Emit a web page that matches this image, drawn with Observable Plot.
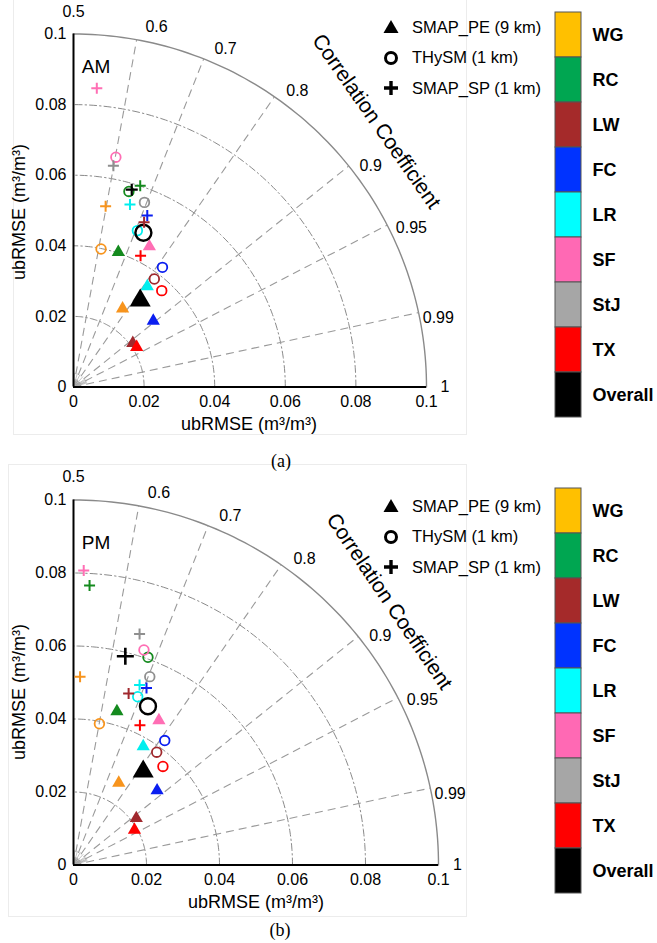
<!DOCTYPE html>
<html><head><meta charset="utf-8">
<script src="https://cdn.jsdelivr.net/npm/d3@7"></script>
<script src="https://cdn.jsdelivr.net/npm/@observablehq/plot@0.6"></script>
<style>
body{margin:0;background:#fff;font-family:"Liberation Sans",Arial,sans-serif;color:#000;}
#root{position:relative;width:657px;height:943px;overflow:hidden;background:#fff;}
.abs{position:absolute;white-space:nowrap;line-height:1;}
.box{position:absolute;border:1px solid #ececec;}
</style></head><body><div id="root"></div>
<script>
// ---------- data ----------
const sites = ["WG","RC","LW","FC","LR","SF","StJ","TX","Overall"];
const barColors = ["#FFC000","#00A651","#A52A2A","#0033FF","#00FFFF","#FF69B4","#A6A6A6","#FF0000","#000000"];
const markerColors = ["#F7941D","#148A1E","#A0282D","#0A1EF0","#00EEEE","#FF6EB4","#8F8F8F","#FF0000","#000000"];
const products = ["SMAP_PE (9 km)","THySM (1 km)","SMAP_SP (1 km)"];
const corrTicks = [0.5,0.6,0.7,0.8,0.9,0.95,0.99,1];
const corrRays = [0.6,0.7,0.8,0.9,0.95,0.99];
const fanRays = [0.55,0.65,0.75,0.85,0.92,0.94,0.96,0.97,0.98];
const rmseTicks = [0,0.02,0.04,0.06,0.08,0.1];
const arcRadii = [0.02,0.04,0.06,0.08];
const outerRadius = 0.1;

// AM: [site, x ubRMSE, y ubRMSE]
const amPE = [["WG",0.0139,0.0222],["RC",0.0127,0.0382],["LW",0.0168,0.0124],["FC",0.0226,0.0187],["LR",0.0209,0.0285],["SF",0.0215,0.0398],["TX",0.0179,0.0113],["Overall",0.0189,0.0245]];
const amTH = [["WG",0.0078,0.0391],["RC",0.0157,0.0554],["LW",0.0229,0.0306],["FC",0.0252,0.0339],["LR",0.0181,0.0443],["SF",0.0120,0.0651],["StJ",0.0201,0.0523],["TX",0.0250,0.0273],["Overall",0.0198,0.0437]];
const amSP = [["WG",0.0091,0.0512],["RC",0.0189,0.0570],["LW",0.0200,0.0467],["FC",0.0209,0.0486],["LR",0.0160,0.0517],["SF",0.0066,0.0846],["StJ",0.0113,0.0627],["TX",0.0190,0.0372],["Overall",0.0165,0.0559]];
// PM
const pmPE = [["WG",0.0124,0.0225],["RC",0.0119,0.0421],["LW",0.0172,0.0128],["FC",0.0229,0.0204],["LR",0.0191,0.0325],["SF",0.0234,0.0396],["TX",0.0167,0.0096],["Overall",0.0191,0.0256]];
const pmTH = [["WG",0.0071,0.0387],["RC",0.0204,0.0569],["LW",0.0228,0.0309],["FC",0.0250,0.0341],["LR",0.0176,0.0461],["SF",0.0193,0.0589],["StJ",0.0209,0.0516],["TX",0.0245,0.0270],["Overall",0.0204,0.0435]];
const pmSP = [["WG",0.0018,0.0516],["RC",0.0044,0.0766],["LW",0.0151,0.0470],["FC",0.0200,0.0485],["LR",0.0181,0.0493],["SF",0.0028,0.0807],["StJ",0.0181,0.0633],["TX",0.0182,0.0383],["Overall",0.0142,0.0572]];

// ---------- helpers ----------
const root = document.getElementById("root");
const mc = s => markerColors[sites.indexOf(s)];
const rows = arr => arr.map(([site,x,y]) => ({site,x,y}));
const ang = c => 1.5*Math.acos(c);
const polar = (rho,c,off=0) => ({x: rho*Math.cos(ang(c)-off), y: rho*Math.sin(ang(c)-off)});
const arcPts = rho => d3.range(0,91,1).map(a => ({r: rho, x: rho*Math.cos(a*Math.PI/180), y: rho*Math.sin(a*Math.PI/180)}));
const plusSymbol = {draw(ctx,size){const h=Math.sqrt(size/Math.PI);ctx.moveTo(-h,0);ctx.lineTo(h,0);ctx.moveTo(0,-h);ctx.lineTo(0,h);}};
const fmt = d => d===0 ? "0" : (d===0.1 ? "0.1" : d.toFixed(2));
// label placement just outside the outer arc
const labelPos = c => c === 1 ? polar(0.104, c) : polar(outerRadius*(1 + 0.04*Math.sin(ang(c))), c, Math.PI/180);

function addText(txt, x, y, opts={}) {
  const d = document.createElement("div");
  d.className = "abs";
  d.innerHTML = txt;
  d.style.left = x+"px"; d.style.top = y+"px";
  d.style.fontSize = (opts.size||16)+"px";
  if (opts.weight) d.style.fontWeight = opts.weight;
  if (opts.family) d.style.fontFamily = opts.family;
  d.style.transform = "translate(-50%,-50%)" + (opts.rotate ? ` rotate(${opts.rotate}deg)` : "");
  root.appendChild(d);
}

function panel({pe, th, sp, S, originY, top, height, plusBig}) {
  const width = 480, marginLeft = 73;
  const marginTop = originY - top - S;
  const marginBottom = height - (originY - top);
  const marginRight = width - marginLeft - S;
  const ov = d => d.site === "Overall";
  const nov = d => d.site !== "Overall";
  const chart = Plot.plot({
    width, height, marginLeft, marginRight, marginTop, marginBottom,
    x: {domain: [0, 0.1]}, y: {domain: [0, 0.1]},
    color: {type: "identity"},
    style: {fontFamily: "'Liberation Sans', Arial, sans-serif", fontSize: "16px", color: "#000", background: "transparent", overflow: "visible"},
    marks: [
      Plot.line(arcRadii.flatMap(arcPts), {x:"x", y:"y", z:"r", stroke:"#8a8a8a", strokeWidth:1, strokeDasharray:"7,3,1.5,3"}),
      Plot.line(arcPts(outerRadius), {x:"x", y:"y", stroke:"#8a8a8a", strokeWidth:1.4}),
      Plot.link(corrRays.map(c => ({x1:0, y1:0, ...polar(outerRadius, c)})), {x1:"x1", y1:"y1", x2:"x", y2:"y", stroke:"#9a9a9a", strokeWidth:1.1, strokeDasharray:"8,5"}),
      Plot.link(fanRays.map(c => ({x1:0, y1:0, ...polar(0.004, c)})), {x1:"x1", y1:"y1", x2:"x", y2:"y", stroke:"#aaa", strokeWidth:0.7}),
      Plot.ruleY([0], {x1:0, x2:0.1, stroke:"#000", strokeWidth:2}),
      Plot.ruleX([0], {y1:0, y2:0.1, stroke:"#000", strokeWidth:2}),
      Plot.axisX(rmseTicks, {tickSize:0, tickPadding:9, tickFormat:fmt, fontSize:16, label:null}),
      Plot.axisY(rmseTicks, {tickSize:0, tickPadding:7, tickFormat:fmt, fontSize:16, label:null}),
      Plot.text(corrTicks.filter(c => c !== 0.5).map(c => ({c, ...labelPos(c)})), {x:"x", y:"y", text: d => String(d.c), textAnchor:"start", fontSize:16}),
      Plot.text(corrTicks.filter(c => c === 0.5).map(c => ({c, ...polar(0.106, c)})), {x:"x", y:"y", text: d => String(d.c), textAnchor:"middle", fontSize:16, dy:-1}),
      // SMAP_PE triangles
      Plot.dot(rows(pe).filter(nov), {x:"x", y:"y", symbol:"triangle", fill: d => mc(d.site), stroke:"none", r:4.9}),
      Plot.dot(rows(pe).filter(ov), {x:"x", y:"y", symbol:"triangle", fill: d => mc(d.site), stroke:"none", r:7.8}),
      // THySM circles
      Plot.dot(rows(th).filter(nov), {x:"x", y:"y", symbol:"circle", fill:"none", stroke: d => mc(d.site), strokeWidth:1.8, r:4.8}),
      Plot.dot(rows(th).filter(ov), {x:"x", y:"y", symbol:"circle", fill:"none", stroke: d => mc(d.site), strokeWidth:2.4, r:8}),
      // SMAP_SP plus
      Plot.dot(rows(sp).filter(nov), {x:"x", y:"y", symbol:plusSymbol, fill:"none", stroke: d => mc(d.site), strokeWidth:2, r:5.5}),
      Plot.dot(rows(sp).filter(ov), {x:"x", y:"y", symbol:plusSymbol, fill:"none", stroke: d => mc(d.site), strokeWidth: plusBig ? 2.6 : 2.2, r: plusBig ? 8.5 : 6})
    ]
  });
  chart.style.position = "absolute";
  chart.style.left = "0px";
  chart.style.top = top + "px";
  root.appendChild(chart);
}

function colorbar(top) {
  const bar = Plot.plot({
    width: 117, height: 430, marginLeft: 15, marginRight: 76, marginTop: 10, marginBottom: 12,
    x: {domain: ["bar"], axis: null, padding: 0},
    y: {domain: sites, padding: 0, axis: null},
    color: {type: "identity"},
    style: {fontFamily: "'Liberation Sans', Arial, sans-serif", background: "transparent", overflow: "visible"},
    marks: [
      Plot.cell(sites, {x: () => "bar", y: d => d, fill: d => barColors[sites.indexOf(d)], stroke: "#555", strokeWidth: 1}),
      Plot.axisY({anchor: "right", tickSize: 0, tickPadding: 11, fontSize: 18, fontWeight: "bold", textAnchor: "start", label: null})
    ]
  });
  bar.style.position = "absolute";
  bar.style.left = "540px";
  bar.style.top = top + "px";
  root.appendChild(bar);
}

function legend(top) {
  const syms = [
    '<svg width="18" height="18" viewBox="-9 -9 18 18"><path d="M0,-7L7.5,6L-7.5,6Z" fill="#000"/></svg>',
    '<svg width="18" height="18" viewBox="-9 -9 18 18"><circle r="5.5" fill="none" stroke="#000" stroke-width="3"/></svg>',
    '<svg width="18" height="18" viewBox="-9 -9 18 18"><path d="M-7,0H7M0,-7V7" stroke="#000" stroke-width="3.4"/></svg>'
  ];
  const ys = [27, 57.5, 88];
  products.forEach((p, i) => {
    const d = document.createElement("div");
    d.className = "abs";
    d.style.left = "382px"; d.style.top = (top + ys[i] - 9) + "px";
    d.style.display = "flex"; d.style.alignItems = "center";
    d.style.fontSize = "16.5px";
    d.innerHTML = syms[i] + '<span style="margin-left:12px">' + p + '</span>';
    root.appendChild(d);
  });
}

// faint panel frames
function frame(l, t, w, h) { const b = document.createElement("div"); b.className = "box"; b.style.left = l+"px"; b.style.top = t+"px"; b.style.width = w+"px"; b.style.height = h+"px"; root.appendChild(b); }
frame(13, -2, 452, 435);
frame(8, 464, 457, 451);

panel({pe: amPE, th: amTH, sp: amSP, S: 353, originY: 386.5, top: 0, height: 440, plusBig: false});
panel({pe: pmPE, th: pmTH, sp: pmSP, S: 365, originY: 864.5, top: 470, height: 470, plusBig: true});
colorbar(0);
colorbar(476);
legend(0);
legend(479);

// texts
addText("AM", 96, 66, {size: 19});
addText("PM", 96, 542, {size: 19});
addText("Correlation Coefficient", 377, 121, {size: 21, rotate: 55});
addText("Correlation Coefficient", 390, 601, {size: 21, rotate: 56});
addText("ubRMSE (m³/m³)", 19, 212, {size: 18, rotate: -90});
addText("ubRMSE (m³/m³)", 19, 692, {size: 18, rotate: -90});
addText("ubRMSE (m³/m³)", 249, 424, {size: 18});
addText("ubRMSE (m³/m³)", 256, 902, {size: 18});
addText("(a)", 281, 461, {size: 18, family: "'Liberation Serif', 'Times New Roman', serif"});
addText("(b)", 280, 930, {size: 18, family: "'Liberation Serif', 'Times New Roman', serif"});
</script></body></html>
